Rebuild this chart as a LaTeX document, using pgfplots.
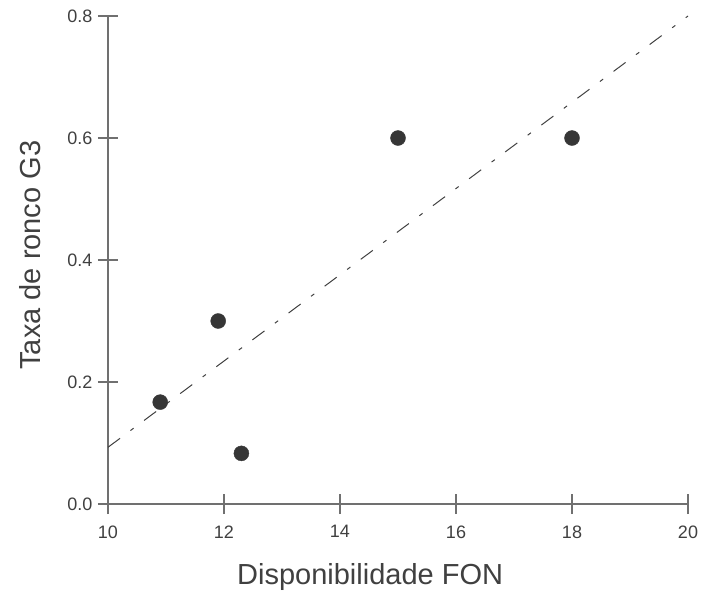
\documentclass[border=0pt]{standalone}
\usepackage{pgfplots}
\pgfplotsset{compat=1.18}
\usepackage{fontspec}
\setmainfont{Liberation Sans}
\definecolor{axcol}{HTML}{707070}
\definecolor{txtcol}{HTML}{404040}
\definecolor{ptcol}{HTML}{363636}
\begin{document}
\begin{tikzpicture}[x=1pt,y=1pt]
\path[use as bounding box] (-108,-95) rectangle (595,504);
\begin{axis}[
  at={(0pt,0pt)}, anchor=south west,
  scale only axis, width=580pt, height=488pt,
  xmin=10, xmax=20, ymin=0, ymax=0.8,
  axis x line*=bottom, axis y line*=left,
  axis line style={axcol, line width=1.2pt},
  tick style={axcol, line width=1.2pt},
  tick align=center, major tick length=20pt,
  xtick={10,12,14,16,18,20},
  ytick={0,0.2,0.4,0.6,0.8},
  yticklabel style={/pgf/number format/fixed, /pgf/number format/fixed zerofill, /pgf/number format/precision=1, xshift=-2pt},
  /pgf/number format/assume math mode=true,
  ticklabel style={font=\fontsize{18}{20}\selectfont, text=txtcol},
  xticklabel style={yshift=-8pt},
  every axis x label/.style={at={(axis description cs:0.452,-0.164)}, anchor=base},
  every axis y label/.style={at={(axis description cs:-0.117,0.51)}, anchor=base, rotate=90},
  label style={font=\fontsize{29}{32}\selectfont, text=txtcol},
  xlabel={Disponibilidade FON},
  ylabel={Taxa de ronco G3},
  clip=false,
]
\addplot[only marks, mark=*, mark size=7.5pt, mark options={fill=ptcol, draw=ptcol}]
  coordinates {(10.9,0.167) (11.9,0.300) (12.3,0.083) (15.0,0.600) (18.0,0.600)};
\addplot[txtcol, line width=1pt, dash pattern=on 15pt off 13pt on 4pt off 13pt]
  coordinates {(10,0.093) (20,0.800)};
\end{axis}
\end{tikzpicture}
\end{document}
